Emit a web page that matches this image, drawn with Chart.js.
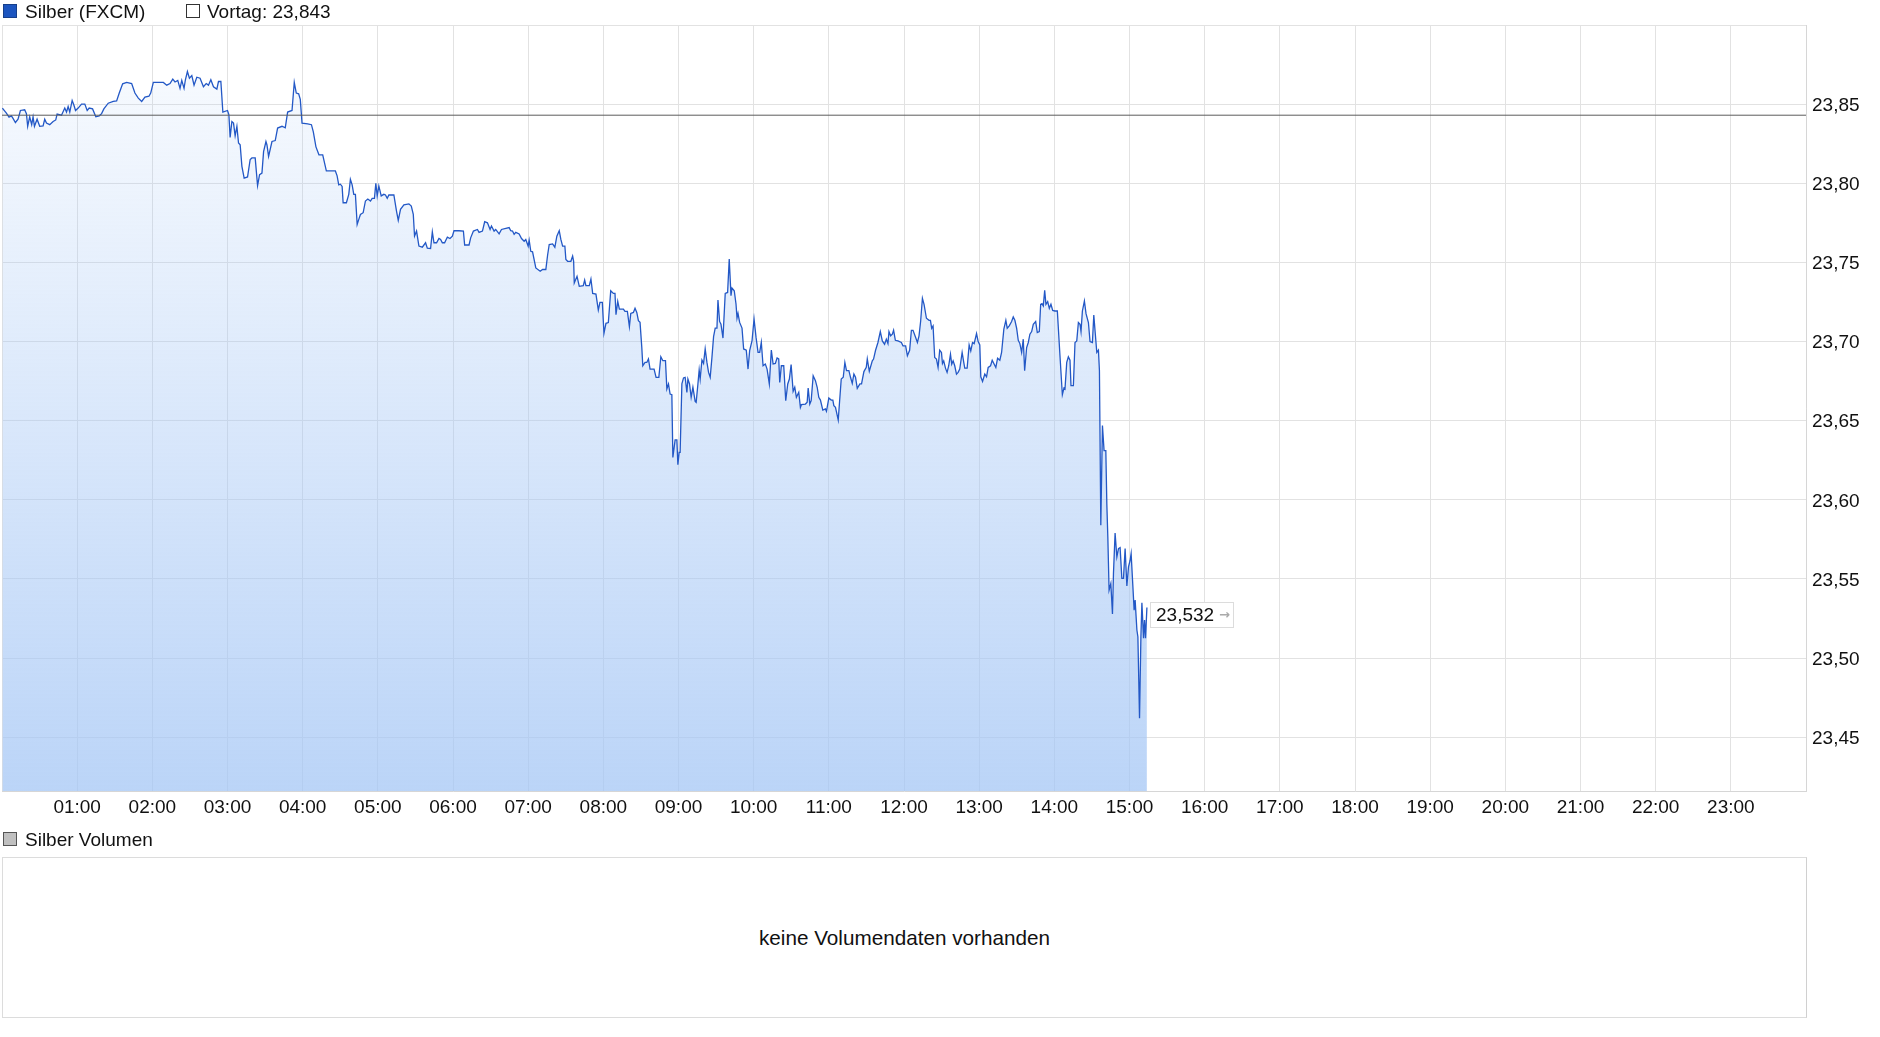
<!DOCTYPE html>
<html>
<head>
<meta charset="utf-8">
<script src="https://cdn.jsdelivr.net/npm/chart.js@4.4.1/dist/chart.umd.min.js"></script>
<style>
  html, body { margin:0; padding:0; background:#fff; width:1880px; height:1037px; overflow:hidden; font-family:"Liberation Sans", Arial, sans-serif; }
  #main { position:absolute; left:0; top:0; }
  .leg { position:absolute; font-size:19px; color:#111; line-height:19px; white-space:nowrap; }
  .sq { position:absolute; width:12px; height:12px; border:1px solid #333; }
  #volbox { position:absolute; left:2px; top:857px; width:1803px; height:159px; border:1px solid #dcdcdc; border-right:1px solid #d0d0d0; }
  #volmsg { position:absolute; left:2px; top:857px; width:1805px; height:161px; display:flex; align-items:center; justify-content:center; font-size:20.7px; color:#111; }
</style>
</head>
<body>
<canvas id="main" width="1880" height="830"></canvas>

<div class="sq" style="left:3px; top:4px; background:#1c55bf; border-color:#163f8a;"></div>
<div class="leg" style="left:25px; top:2px;">Silber (FXCM)</div>
<div class="sq" style="left:186px; top:4px; background:#fff; border-color:#333;"></div>
<div class="leg" style="left:207px; top:2px;">Vortag: 23,843</div>

<div class="sq" style="left:3px; top:832px; background:#c0c0c0; border-color:#555;"></div>
<div class="leg" style="left:25px; top:830px;">Silber Volumen</div>
<div id="volbox"></div>
<div id="volmsg">keine Volumendaten vorhanden</div>

<script>
// ---- data (minutes since 00:00, price) ----
const times = [
0.3,3.5,5.6,7.5,8.8,10.7,12.8,14.7,18.1,19.5,20.5,22.1,23.7,24.8,25.9,28,30.1,32.8,34.1,35.5,38.1,40.8,42.9,44,47.5,50.1,51.5,52.8,54.1,56,57.3,58.7,60.8,63.5,66.1,68,69.6,72.3,74.9,77.6,79.5,81.3,84.8,88.8,91.5,93.6,96.3,99.5,103.5,106.1,108.8,111.5,114.1,117.3,118.7,120.8,128.8,131.5,134.1,136.3,138.1,140.3,142.1,143.5,145.3,146.4,148,149.6,151.5,153.3,155.5,158.1,160.8,163,164.8,166.7,168.8,171.5,172.8,174.7,176.3,180,181.1,182.1,183.5,184.8,186.1,187.5,188.8,190.1,191.5,193.3,196,198.1,199.5,202.1,204,205.6,207.5,208.8,210.7,211.5,212.8,215.5,218.1,220,223.5,226.1,228,231.5,233.3,234.9,236.8,238.1,
239.5,244,247,248.5,250.6,253,256,
258.9,266.1,267.5,268.8,270.1,271.5,272.3,274.9,276.8,278.1,279.5,280.8,282.1,283.5,284.8,286.1,288.3,290.1,292,294.1,295.5,297.3,298.4,299.5,300.8,302.7,304.8,306.1,307.5,308.8,312.8,314.9,316.3,318.1,320.8,324.8,326.7,328.3,329.3,330.9,332.8,335.5,338.1,339.5,342.1,343.5,344.8,346.9,348.8,350.1,351.5,353.3,355.5,357.6,359.5,360.8,364.8,368.3,369.3,372.8,374.1,376.3,379.5,380.8,383.5,385.3,387.5,389.6,390.7,392.8,394.1,396.8,398.7,404.8,406.1,407.5,408.8,410.1,412.8,414.7,416.8,418.1,420,420.8,422.1,423.5,426.1,429.6,431.5,434.1,435.5,436.8,439.5,441.3,442.9,444.8,446.1,447.5,449.3,450.1,451.5,454.1,455.5,456.3,456.8,459,460.8,
464,465.1,466.1,468.8,470.1,471.5,474.1,476,477.3,479.2,480.5,482.1,484,485.9,488,489.3,490.1,491.5,492.8,496,497.3,499.2,500.8,501.9,504,505.3,506.7,508,509.3,510.7,511.5,513.3,514.7,516,517.3,520.5,522.1,524.3,525.9,527.5,529.6,530.7,532,533.3,534.7,535.5,537.3,538.7,539.5,540.5,541.3,542.7,544,545.3,546.7,547.5,548.8,550.1,551.5,553.3,554.1,555.5,556.5,557.3,558.7,560,561.3,562.7,564,565.3,566.7,568,569.3,570.7,571.5,572.8,573.9,575.5,577.3,579.2,580.5,581.9,582.7,584.5,585.9,586.7,587.5,588.8,590.7,592,594.1,595.5,596.8,598.7,600.3,601.9,603.5,604.8,606.1,607.5,609.3,610.7,612.5,614.1,615.5,617.3,618.7,620,620.8,622.1,624,625.6,627.2,628.5,629.9,631.5,632.8,634.1,636,637.3,638.1,641.3,642.7,643.5,644.8,645.9,647.5,649.3,650.7,652,653.3,655.2,657.3,658.1,660,661.9,663.2,664,665.3,667.5,669.9,671.5,672.8,674.1,676,677.3,678.7,680,681.3,682.7,684.8,686.1,688,689.9,690.7,692.3,
694.7,695.7,697.3,699.2,701.1,702.7,704.5,705.9,707.2,708,709.3,710.7,711.7,713.1,715.2,717.9,719.2,721.3,722.7,724.5,725.9,727.2,729.3,730.7,732,733.3,734.7,736,737.9,740,741.1,742.1,743.2,744.5,745.9,747.2,748.5,749.9,750.7,751.7,753.1,754.4,755.7,757.1,758.1,759.2,760.5,761.9,763.2,764.5,766.4,767.7,768.5,770.4,772,773.3,774.7,776,777.9,779.2,780.5,781.3,782.7,784.5,785.9,787.2,789.1,790.4,791.7,793.3,794.7,796.5,797.9,799.7,801.3,802.4,804,805.9,807.2,808.5,809.9,811.2,812.5,813.9,815.2,816.3,817.9,819.2,820.5,821.9,823.2,825.1,826.4,828,829.1,830.1,831.2,832.3,833.3,834.7,836,837.3,838.7,840.5,842.4,844.5,846.4,847.7,848.5,849.9,851.2,852.5,853.3,855.2,856.5,857.9,859.2,860.5,861.3,862.4,864,865.3,867.2,868.5,870.4,871.5,872.5,873.9,875.2,876,877.1,878.4,879.7,881.1,881.9,882.7,883.7,885.1,886.4,887.2,888.5,889.9,891.2,892.5,893.9,895.2,896.5,897.9,899.2,900.5,901.3,902.7,903.7,904.5,905.9,906.7,908,909.1,909.9,911.2,912,912.8,913.9
];
const prices = [
23.8475,23.8443,23.8418,23.8426,23.841,23.8384,23.8405,23.846,23.8464,23.844,23.836,23.842,23.837,23.842,23.836,23.8405,23.836,23.8363,23.8405,23.838,23.837,23.839,23.840,23.8437,23.843,23.8475,23.845,23.8485,23.845,23.8523,23.8496,23.846,23.8475,23.850,23.850,23.846,23.8475,23.847,23.842,23.8426,23.844,23.847,23.8506,23.8517,23.852,23.857,23.8628,23.8637,23.863,23.857,23.8538,23.8517,23.8544,23.855,23.857,23.8637,23.8637,23.862,23.863,23.8658,23.864,23.865,23.860,23.865,23.860,23.8654,23.8706,23.8664,23.868,23.862,23.867,23.8664,23.861,23.863,23.862,23.8654,23.861,23.8595,23.8643,23.8643,23.845,23.846,23.8433,23.829,23.839,23.838,23.830,23.836,23.8254,23.8243,23.8107,23.8033,23.804,23.815,23.816,23.816,23.7985,23.8054,23.8064,23.820,23.8264,23.8243,23.817,23.8264,23.827,23.8349,23.836,23.835,23.845,23.846,23.8637,23.857,23.8565,23.853,
23.838,23.8375,23.837,23.8325,23.823,23.818,23.818,
23.8078,23.8078,23.8047,23.799,23.7994,23.798,23.7877,23.7877,23.793,23.8025,23.799,23.793,23.793,23.774,23.7772,23.7803,23.7814,23.7888,23.790,23.7888,23.7905,23.7905,23.800,23.792,23.7983,23.792,23.793,23.7926,23.7905,23.7926,23.7926,23.7824,23.7765,23.7835,23.7863,23.787,23.7856,23.7803,23.7666,23.7698,23.7603,23.7596,23.7624,23.759,23.7588,23.7693,23.7624,23.7624,23.7651,23.7645,23.7624,23.7624,23.766,23.7651,23.7666,23.770,23.770,23.7698,23.761,23.761,23.7655,23.7698,23.7708,23.769,23.7698,23.7757,23.775,23.7708,23.773,23.7698,23.7708,23.768,23.7708,23.772,23.770,23.7698,23.7677,23.769,23.768,23.7651,23.7634,23.7645,23.7603,23.764,23.757,23.7567,23.7465,23.7444,23.7455,23.7455,23.7545,23.7613,23.7617,23.7596,23.7666,23.770,23.7645,23.7603,23.7603,23.7518,23.7507,23.7507,23.754,23.7507,23.737,23.7412,23.7349,
23.7353,23.7388,23.7353,23.7353,23.7395,23.7304,23.730,23.7199,23.7247,23.7247,23.7052,23.7115,23.712,23.7321,23.7304,23.7304,23.717,23.7254,23.7205,23.7205,23.719,23.719,23.7094,23.7178,23.7184,23.721,23.7184,23.7132,23.7121,23.6963,23.6847,23.6868,23.6868,23.689,23.6826,23.6826,23.6774,23.6774,23.6904,23.6879,23.6879,23.670,23.6732,23.6668,23.6664,23.6268,23.6378,23.6378,23.6222,23.630,23.630,23.6732,23.677,23.6774,23.6679,23.6763,23.6732,23.6647,23.6711,23.6622,23.6616,23.6732,23.682,23.6763,23.6883,23.6862,23.6953,23.6868,23.6805,23.6774,23.690,23.7031,23.7085,23.7085,23.7262,23.7127,23.711,23.7022,23.7304,23.731,23.7521,23.729,23.7338,23.7321,23.7237,23.7148,23.7178,23.7121,23.7085,23.6953,23.6946,23.6826,23.6942,23.7005,23.7142,23.7026,23.6932,23.6932,23.6995,23.6847,23.6858,23.6826,23.6732,23.6946,23.6858,23.6862,23.6896,23.689,23.6742,23.6847,23.6847,23.6626,23.6732,23.6763,23.6854,23.6685,23.6711,23.6647,23.6679,23.6584,23.6601,23.6605,23.6616,23.6706,23.6605,23.6626,23.6784,23.6753,23.6711,23.6647,23.663,23.6567,23.6574,23.6559,23.6643,23.663,23.663,23.6595,23.6584,23.6504,23.6763,23.6774,23.6868,23.6816,23.6816,23.6774,23.6736,23.6795,23.6774,23.6704,23.6732,23.6732,23.681,23.6837,23.689,23.6812,
23.6878,23.6889,23.6945,23.6994,23.7063,23.7004,23.6983,23.7015,23.6987,23.7063,23.7036,23.7046,23.7071,23.7008,23.7004,23.6994,23.6973,23.6973,23.691,23.6945,23.7071,23.7071,23.7025,23.6994,23.7036,23.713,23.7273,23.7235,23.7147,23.7134,23.7134,23.7084,23.7099,23.6899,23.6889,23.6836,23.6945,23.6931,23.6861,23.6878,23.6832,23.6805,23.6847,23.692,23.6857,23.6878,23.6847,23.6794,23.6805,23.6826,23.6931,23.6868,23.6832,23.6832,23.6979,23.6941,23.6994,23.6987,23.705,23.700,23.6979,23.6777,23.6748,23.6794,23.6777,23.6836,23.6847,23.6882,23.6861,23.6836,23.6895,23.6882,23.6931,23.7078,23.7134,23.7084,23.7099,23.7126,23.7155,23.7134,23.7084,23.7008,23.6987,23.6931,23.7015,23.6815,23.6962,23.6994,23.7046,23.7063,23.7109,23.7126,23.7057,23.7063,23.7235,23.7239,23.7225,23.7323,23.7235,23.7252,23.721,23.7235,23.7197,23.7193,23.7193,23.691,23.6664,23.6706,23.670,23.6868,23.6903,23.6882,23.6721,23.6721,23.6994,23.7004,23.712,23.7109,23.7063,23.7193,23.7256,23.7176,23.712,23.700,23.6994,23.7168,23.7067,23.6931,23.6945,23.6815,23.5839,23.6469,23.6311,23.6311,23.5975,23.5765,23.5429,23.5471,23.5278,23.5534,23.579,23.5639,23.5692,23.5698,23.5503,23.5503,23.5692,23.5455,23.5576,23.5618,23.566,23.5452,23.5303,23.5366,23.5177,23.5135,23.462,23.5135,23.5349,23.5125,23.524,23.5125,23.532
];
const vortag = 23.843;
const hourTicks = [0,60,120,180,240,300,360,420,480,540,600,660,720,780,840,900,960,1020,1080,1140,1200,1260,1320,1380,1440];
const xTickLabels = ['','01:00','02:00','03:00','04:00','05:00','06:00','07:00','08:00','09:00','10:00','11:00','12:00','13:00','14:00','15:00','16:00','17:00','18:00','19:00','20:00','21:00','22:00','23:00',''];
const yTickValues = [23.45,23.50,23.55,23.60,23.65,23.70,23.75,23.80,23.85,23.90];
const yTickLabels = ['23,45','23,50','23,55','23,60','23,65','23,70','23,75','23,80','23,85',''];
const yMin = 23.416, yMax = 23.90;

Chart.defaults.font.family = '"Liberation Sans", Arial, sans-serif';
Chart.defaults.font.size = 19;
Chart.defaults.color = '#111';

const series = times.map((t, i) => ({ x: t, y: prices[i] }));

const lastLabel = {
  id: 'lastLabel',
  afterDatasetsDraw(chart) {
    const meta = chart.getDatasetMeta(1);
    const pt = meta.data[meta.data.length - 1];
    if (!pt) return;
    const ctx = chart.ctx;
    const bx = Math.round(pt.x) + 3, by = Math.round(pt.y) - 5, bw = 84, bh = 26;
    ctx.save();
    ctx.fillStyle = '#fff';
    ctx.fillRect(bx, by, bw, bh);
    ctx.strokeStyle = '#dcdcdc';
    ctx.lineWidth = 1;
    ctx.strokeRect(bx + 0.5, by + 0.5, bw - 1, bh - 1);
    ctx.fillStyle = '#111';
    ctx.font = '19px "Liberation Sans", Arial, sans-serif';
    ctx.textBaseline = 'middle';
    ctx.textAlign = 'left';
    ctx.fillText(prices[prices.length - 1].toFixed(3).replace('.', ','), bx + 6, by + bh / 2 + 1);
    ctx.fillStyle = '#aaaaaa';
    ctx.font = 'bold 13px "DejaVu Sans", sans-serif';
    ctx.fillText('\u2192', bx + 69, by + bh / 2 + 1);
    ctx.restore();
  }
};

new Chart(document.getElementById('main').getContext('2d'), {
  type: 'line',
  data: {
    datasets: [
      {
        label: 'Vortag',
        data: [{ x: 0, y: vortag }, { x: 1440, y: vortag }],
        borderColor: '#5c5c5c',
        borderWidth: 1,
        pointRadius: 0,
        fill: false,
        order: 0
      },
      {
        label: 'Silber (FXCM)',
        data: series,
        borderColor: '#2358c6',
        borderWidth: 1.3,
        pointRadius: 0,
        tension: 0,
        fill: 'start',
        order: 1,
        backgroundColor: (c) => {
          const { ctx, chartArea } = c.chart;
          if (!chartArea) return 'rgba(164,198,245,0.4)';
          const g = ctx.createLinearGradient(0, chartArea.top, 0, chartArea.bottom);
          g.addColorStop(0, 'rgba(164,198,245,0.05)');
          g.addColorStop(1, 'rgba(164,198,245,0.75)');
          return g;
        }
      }
    ]
  },
  options: {
    responsive: false,
    animation: false,
    events: [],
    layout: { padding: { left: 2, top: 25, right: 0, bottom: 0 } },
    plugins: { legend: { display: false }, tooltip: { enabled: false } },
    scales: {
      x: {
        type: 'linear',
        min: 0, max: 1440,
        afterBuildTicks: (s) => { s.ticks = hourTicks.map(v => ({ value: v })); },
        afterFit: (s) => { s.height = 39; s.paddingLeft = 0; s.paddingRight = 0; },
        ticks: { autoSkip: false, maxRotation: 0, padding: 5, color: '#111', callback: (v, i) => xTickLabels[i] },
        grid: { color: '#e2e2e2', drawTicks: false, lineWidth: 1 },
        border: { color: '#d6d6d6' }
      },
      y: {
        position: 'right',
        min: yMin, max: yMax,
        afterBuildTicks: (s) => { s.ticks = yTickValues.map(v => ({ value: v })); },
        afterFit: (s) => { s.width = 74; s.paddingTop = 0; s.paddingBottom = 0; },
        ticks: { padding: 6, labelOffset: 1.5, color: '#111', callback: (v, i) => yTickLabels[i] },
        grid: { color: '#e2e2e2', drawTicks: false, lineWidth: 1 },
        border: { color: '#d6d6d6' }
      }
    }
  },
  plugins: [lastLabel]
});
</script>
</body>
</html>
